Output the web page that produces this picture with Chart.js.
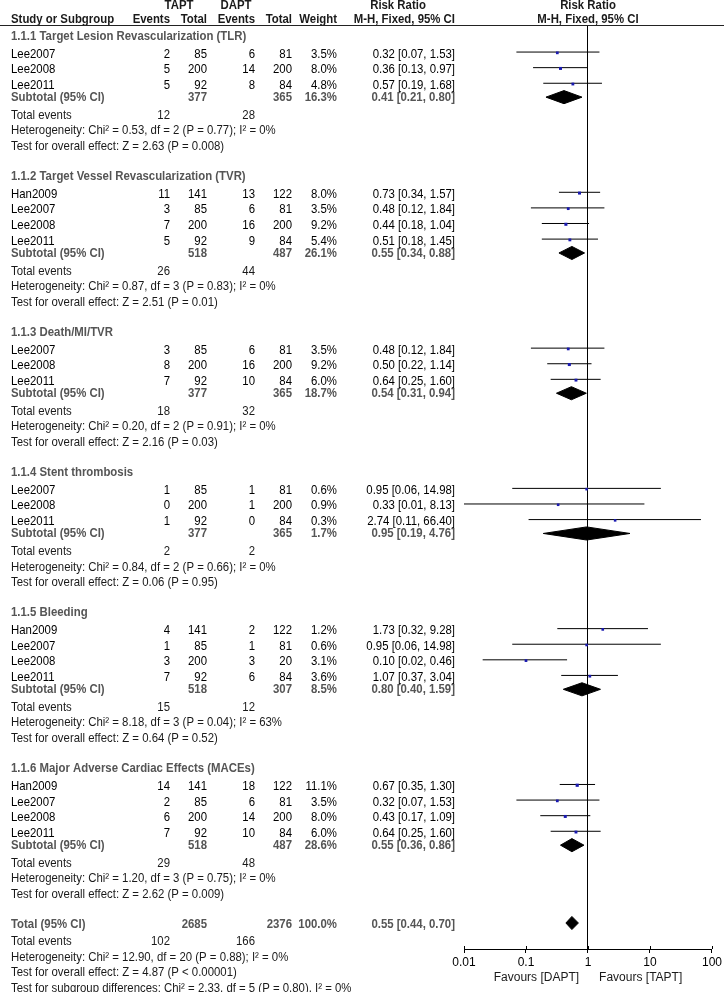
<!DOCTYPE html>
<html><head><meta charset="utf-8">
<script src="https://cdn.jsdelivr.net/npm/chart.js@4.4.1/dist/chart.umd.min.js"></script>
<style>html,body{margin:0;padding:0;background:#fff}#wrap{width:724px;height:992px;position:relative}</style>
</head><body><div id="wrap"><canvas id="c"></canvas></div>
<script>
// ---------- DATA ----------
const subgroupTitles = [
  '1.1.1 Target Lesion Revascularization (TLR)',
  '1.1.2 Target Vessel Revascularization (TVR)',
  '1.1.3 Death/MI/TVR',
  '1.1.4 Stent thrombosis',
  '1.1.5 Bleeding',
  '1.1.6 Major Adverse Cardiac Effects (MACEs)'
];
const studyGroup = [0,0,0, 1,1,1,1, 2,2,2, 3,3,3, 4,4,4,4, 5,5,5,5];
const studyNames = ['Lee2007','Lee2008','Lee2011', 'Han2009','Lee2007','Lee2008','Lee2011', 'Lee2007','Lee2008','Lee2011', 'Lee2007','Lee2008','Lee2011', 'Han2009','Lee2007','Lee2008','Lee2011', 'Han2009','Lee2007','Lee2008','Lee2011'];
const tEvents = [2,5,5, 11,3,7,5, 3,8,7, 1,0,1, 4,1,3,7, 14,2,6,7];
const tTotal  = [85,200,92, 141,85,200,92, 85,200,92, 85,200,92, 141,85,200,92, 141,85,200,92];
const dEvents = [6,14,8, 13,6,16,9, 6,16,10, 1,1,0, 2,1,3,6, 18,6,14,10];
const dTotal  = [81,200,84, 122,81,200,84, 81,200,84, 81,200,84, 122,81,20,84, 122,81,200,84];
const studyWeight = [3.5,8.0,4.8, 8.0,3.5,9.2,5.4, 3.5,9.2,6.0, 0.6,0.9,0.3, 1.2,0.6,3.1,3.6, 11.1,3.5,8.0,6.0];
const studyRR = [0.32,0.36,0.57, 0.73,0.48,0.44,0.51, 0.48,0.50,0.64, 0.95,0.33,2.74, 1.73,0.95,0.10,1.07, 0.67,0.32,0.43,0.64];
const studyLo = [0.07,0.13,0.19, 0.34,0.12,0.18,0.18, 0.12,0.22,0.25, 0.06,0.01,0.11, 0.32,0.06,0.02,0.37, 0.35,0.07,0.17,0.25];
const studyHi = [1.53,0.97,1.68, 1.57,1.84,1.04,1.45, 1.84,1.14,1.60, 14.98,8.13,66.40, 9.28,14.98,0.46,3.04, 1.30,1.53,1.09,1.60];

const subTTotal = [377,518,377,377,518,518];
const subDTotal = [365,487,365,365,307,487];
const subWeight = [16.3,26.1,18.7,1.7,8.5,28.6];
const subRR = [0.41,0.55,0.54,0.95,0.80,0.55];
const subLo = [0.21,0.34,0.31,0.19,0.40,0.36];
const subHi = [0.80,0.88,0.94,4.76,1.59,0.86];
const subTEvents = [12,26,18,2,15,29];
const subDEvents = [28,44,32,2,12,48];
const hetChi = ['0.53','0.87','0.20','0.84','8.18','1.20'];
const hetDf  = [2,3,2,2,3,3];
const hetP   = ['0.77','0.83','0.91','0.66','0.04','0.75'];
const hetI2  = [0,0,0,0,63,0];
const effZ   = ['2.63','2.51','2.16','0.06','0.64','2.62'];
const effP   = ['P = 0.008','P = 0.01','P = 0.03','P = 0.95','P = 0.52','P = 0.009'];

const totalTTotal = 2685, totalDTotal = 2376, totalWeight = 100.0;
const totalRR = 0.55, totalLo = 0.44, totalHi = 0.70;
const totalTEvents = 102, totalDEvents = 166;
const totalHet = ['12.90', 20, '0.88', 0];
const totalEff = ['4.87', 'P < 0.00001'];
const subgroupDiff = ['2.33', 5, '0.80', 0];

const xTickValues = [0.01, 0.1, 1, 10, 100];
const xTickLabels = ['0.01', '0.1', '1', '10', '100'];
const axisTitle = 'Favours [DAPT]      Favours [TAPT]';

// ---------- LAYOUT (styles, not data) ----------
const FONT = "'Liberation Sans', Arial, sans-serif";
const FS = 11.4;
const VSTRETCH = 1.14;           // reference glyphs are slightly taller than wide
const UNIT = 15.6;               // px per row unit
const AREA_TOP = 26, AREA_BOTTOM = 949;
const GAP = {top:0.64, headToStudy:1.15, study:1, studyToSub:0.77, subToEvents:1.15, line:1, section:1.92, totToEvents:1.1};
const COL = {name:11, tEv:170, tTot:207, dEv:255, dTot:292, w:337, ci:455};
const LINE_OFF = 0.12, DIAMOND_H = 0.42;

const fmt2 = v => v.toFixed(2);
const ciText = (r,l,h) => `${fmt2(r)} [${fmt2(l)}, ${fmt2(h)}]`;

// build rows
const rows = [];
let y = GAP.top;
for (let g = 0; g < subgroupTitles.length; g++) {
  rows.push({kind:'heading', y, g});
  y += GAP.headToStudy;
  const idx = studyGroup.map((v,i)=>v===g?i:-1).filter(i=>i>=0);
  idx.forEach((i,k)=>{ if (k>0) y += GAP.study; rows.push({kind:'study', y, i}); });
  y += GAP.studyToSub; rows.push({kind:'sub', y, g});
  y += GAP.subToEvents; rows.push({kind:'events', y, g});
  y += GAP.line; rows.push({kind:'het', y, g});
  y += GAP.line; rows.push({kind:'test', y, g});
  y += GAP.section;
}
rows.push({kind:'total', y});
y += GAP.totToEvents; rows.push({kind:'totEvents', y});
y += GAP.line; rows.push({kind:'totHet', y});
y += GAP.line; rows.push({kind:'totTest', y});
y += GAP.line; rows.push({kind:'subDiff', y});

// datasets
const ciData = [], sqData = [], sqRadius = [];
rows.filter(r=>r.kind==='study').forEach(r=>{
  const i = r.i;
  ciData.push({x:studyLo[i], y:r.y-LINE_OFF}, {x:studyHi[i], y:r.y-LINE_OFF}, {x:studyHi[i], y:null});
  sqData.push({x:studyRR[i], y:r.y-LINE_OFF+0.05});
  sqRadius.push(1.8 + studyWeight[i]*0.04);
});
const diamonds = [];
const diamond = (yy, r, l, h) => [{x:l,y:yy},{x:r,y:yy-DIAMOND_H},{x:h,y:yy},{x:r,y:yy+DIAMOND_H},{x:l,y:yy}];
rows.filter(r=>r.kind==='sub').forEach(r=>diamonds.push(diamond(r.y, subRR[r.g], subLo[r.g], subHi[r.g])));
rows.filter(r=>r.kind==='total').forEach(r=>diamonds.push(diamond(r.y-0.08, totalRR, totalLo, totalHi)));

const datasets = [
  {type:'line', data:ciData, borderColor:'#000', borderWidth:1, pointRadius:0, fill:false, spanGaps:false, order:2},
  {type:'line', data:sqData, showLine:false, pointStyle:'rect', pointRadius:sqRadius, backgroundColor:'#1a1ab0', borderWidth:0, pointBorderWidth:0, order:1},
  ...diamonds.map(d=>({type:'line', data:d, borderColor:'#000', backgroundColor:'#000', borderWidth:1, pointRadius:0, fill:'shape', tension:0, order:3}))
];

// text plugin
const textPlugin = {
  id:'forestText',
  beforeDraw(chart){
    const c = chart.ctx; c.save(); c.fillStyle='#fff'; c.fillRect(0,0,chart.width,chart.height); c.restore();
  },
  afterDraw(chart){
    const c = chart.ctx, ys = chart.scales.y, xs = chart.scales.x;
    const P = v => ys.getPixelForValue(v);
    const T = (txt, x, yy, align, bold, color) => {
      c.save();
      c.font = `${bold?'bold ':''}${FS}px ${FONT}`;
      c.textAlign = align; c.textBaseline = 'middle'; c.fillStyle = color;
      c.translate(x, yy); c.scale(1, VSTRETCH);
      c.fillText(txt, 0, 0);
      c.restore();
    };
    c.save();
    const H = '#1a1a1a', G = '#555', K = '#000';
    const x1 = xs.getPixelForValue(1);
    // header
    const h1 = 5, h2 = 19;
    T('TAPT', 179, h1, 'center', true, H);
    T('DAPT', 236, h1, 'center', true, H);
    T('Risk Ratio', 398, h1, 'center', true, H);
    T('Risk Ratio', x1, h1, 'center', true, H);
    T('Study or Subgroup', COL.name, h2, 'left', true, H);
    T('Events', COL.tEv, h2, 'right', true, H);
    T('Total', COL.tTot, h2, 'right', true, H);
    T('Events', COL.dEv, h2, 'right', true, H);
    T('Total', COL.dTot, h2, 'right', true, H);
    T('Weight', COL.w, h2, 'right', true, H);
    T('M-H, Fixed, 95% CI', COL.ci, h2, 'right', true, H);
    T('M-H, Fixed, 95% CI', x1, h2, 'center', true, H);
    c.strokeStyle = '#222'; c.lineWidth = 1;
    c.beginPath(); c.moveTo(0, 25.5); c.lineTo(chart.width, 25.5); c.stroke();

    rows.forEach(r=>{
      const yy = P(r.y);
      if (r.kind==='heading') T(subgroupTitles[r.g], COL.name, yy, 'left', true, G);
      else if (r.kind==='study') {
        const i = r.i;
        T(studyNames[i], COL.name, yy, 'left', false, K);
        T(String(tEvents[i]), COL.tEv, yy, 'right', false, K);
        T(String(tTotal[i]), COL.tTot, yy, 'right', false, K);
        T(String(dEvents[i]), COL.dEv, yy, 'right', false, K);
        T(String(dTotal[i]), COL.dTot, yy, 'right', false, K);
        T(studyWeight[i].toFixed(1)+'%', COL.w, yy, 'right', false, K);
        T(ciText(studyRR[i], studyLo[i], studyHi[i]), COL.ci, yy, 'right', false, K);
      } else if (r.kind==='sub') {
        const g = r.g;
        T('Subtotal (95% CI)', COL.name, yy, 'left', true, G);
        T(String(subTTotal[g]), COL.tTot, yy, 'right', true, G);
        T(String(subDTotal[g]), COL.dTot, yy, 'right', true, G);
        T(subWeight[g].toFixed(1)+'%', COL.w, yy, 'right', true, G);
        T(ciText(subRR[g], subLo[g], subHi[g]), COL.ci, yy, 'right', true, G);
      } else if (r.kind==='events') {
        T('Total events', COL.name, yy, 'left', false, H);
        T(String(subTEvents[r.g]), COL.tEv, yy, 'right', false, H);
        T(String(subDEvents[r.g]), COL.dEv, yy, 'right', false, H);
      } else if (r.kind==='het') {
        const g = r.g;
        T(`Heterogeneity: Chi\u00b2 = ${hetChi[g]}, df = ${hetDf[g]} (P = ${hetP[g]}); I\u00b2 = ${hetI2[g]}%`, COL.name, yy, 'left', false, H);
      } else if (r.kind==='test') {
        T(`Test for overall effect: Z = ${effZ[r.g]} (${effP[r.g]})`, COL.name, yy, 'left', false, H);
      } else if (r.kind==='total') {
        T('Total (95% CI)', COL.name, yy, 'left', true, G);
        T(String(totalTTotal), COL.tTot, yy, 'right', true, G);
        T(String(totalDTotal), COL.dTot, yy, 'right', true, G);
        T(totalWeight.toFixed(1)+'%', COL.w, yy, 'right', true, G);
        T(ciText(totalRR, totalLo, totalHi), COL.ci, yy, 'right', true, G);
      } else if (r.kind==='totEvents') {
        T('Total events', COL.name, yy, 'left', false, H);
        T(String(totalTEvents), COL.tEv, yy, 'right', false, H);
        T(String(totalDEvents), COL.dEv, yy, 'right', false, H);
      } else if (r.kind==='totHet') {
        T(`Heterogeneity: Chi\u00b2 = ${totalHet[0]}, df = ${totalHet[1]} (P = ${totalHet[2]}); I\u00b2 = ${totalHet[3]}%`, COL.name, yy, 'left', false, H);
      } else if (r.kind==='totTest') {
        T(`Test for overall effect: Z = ${totalEff[0]} (${totalEff[1]})`, COL.name, yy, 'left', false, H);
      } else if (r.kind==='subDiff') {
        T(`Test for subgroup differences: Chi\u00b2 = ${subgroupDiff[0]}, df = ${subgroupDiff[1]} (P = ${subgroupDiff[2]}), I\u00b2 = ${subgroupDiff[3]}%`, COL.name, yy, 'left', false, H);
      }
    });
    // upward half of axis ticks
    c.strokeStyle = '#000'; c.lineWidth = 1;
    xs.ticks.forEach(t=>{
      const px = Math.round(xs.getPixelForValue(t.value)) + 0.5;
      c.beginPath(); c.moveTo(px, xs.top - 3); c.lineTo(px, xs.top); c.stroke();
    });
    c.restore();
  }
};

new Chart(document.getElementById('c'), {
  type:'line',
  data:{datasets},
  options:{
    responsive:true, maintainAspectRatio:false, animation:false, events:[],
    layout:{padding:{left:464, right:11, top:AREA_TOP, bottom:0}},
    plugins:{legend:{display:false}, tooltip:{enabled:false}},
    scales:{
      x:{
        type:'logarithmic', min:0.01, max:100, position:'bottom',
        afterBuildTicks: s => { s.ticks = xTickValues.map(v=>({value:v})); },
        afterFit: s => { s.height = 992 - AREA_BOTTOM; },
        border:{display:true, color:'#000', width:1},
        grid:{drawOnChartArea:true, drawTicks:true, tickLength:4, tickColor:'#000', lineWidth:1,
              color: ctx => (ctx.tick && ctx.tick.value === 1) ? '#000' : 'rgba(0,0,0,0)'},
        ticks:{autoSkip:false, maxRotation:0, padding:2, color:'#000', font:{family:FONT, size:12},
               callback: v => { const k = xTickValues.indexOf(v); return k >= 0 ? xTickLabels[k] : ''; }},
        title:{display:true, text:axisTitle, color:'#1a1a1a', font:{family:FONT, size:12}, padding:{top:0, bottom:7}}
      },
      y:{type:'linear', display:false, reverse:true, min:0, max:(AREA_BOTTOM-AREA_TOP)/UNIT}
    }
  },
  plugins:[textPlugin]
});
</script></body></html>
